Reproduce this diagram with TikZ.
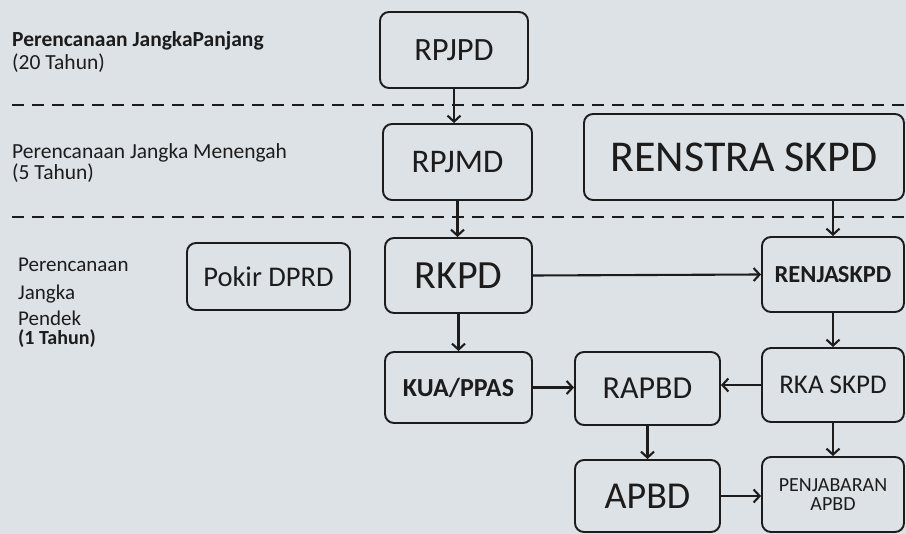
\documentclass[tikz,border=0pt]{standalone}
\usepackage{fontspec}
\setmainfont{Carlito}
\usetikzlibrary{arrows.meta}
\definecolor{bg}{HTML}{DDE2E6}
\definecolor{ink}{HTML}{1C1C1C}
\newcommand{\fs}[1]{\fontsize{#1}{#1}\selectfont}
\begin{document}
\begin{tikzpicture}[x=1pt,y=-1pt,
  box/.style={draw=ink, line width=1.9pt, rounded corners=9pt, text=ink, inner sep=0pt, align=center},
  arr/.style={draw=ink, line width=2.1pt, -{Straight Barb[length=6pt,width=13pt,line width=2.1pt]}},
  sepline/.style={draw=ink, line width=2.6pt, dash pattern=on 12pt off 8pt},
  lbl/.style={text=ink, anchor=base west, inner sep=0pt}]
\fill[bg] (0,0) rectangle (906,534);
\useasboundingbox (0,0) rectangle (906,534);

% separators
\coordinate (s1a) at (12,105); \coordinate (s1b) at (906,105);
\coordinate (s2a) at (12,217); \coordinate (s2b) at (906,217);
\draw[sepline] (s1a) -- (s1b);
\draw[sepline, line width=2.2pt] (s2a) -- (s2b);

% left labels
\node[lbl] (l1a) at (12,47) {\fs{21.5}\bfseries Perencanaan JangkaPanjang};
\node[lbl] (l1b) at (12,70) {\fs{21.5}(20 Tahun)};
\node[lbl] (l2a) at (12,159) {\fs{21.5}Perencanaan Jangka Menengah};
\node[lbl] (l2b) at (12,180) {\fs{21.5}(5 Tahun)};
\node[lbl] (l3a) at (18,272) {\fs{21}Perencanaan};
\node[lbl] (l3b) at (18,300) {\fs{21}Jangka};
\node[lbl] (l3c) at (18,326) {\fs{21}Pendek};
\node[lbl] (l3d) at (18,345) {\fs{20}\bfseries (1 Tahun)};

% boxes
\node[box, minimum width=148pt, minimum height=76pt] (rpjpd) at (454,50) {\fs{32.5}RPJPD};
\node[box, minimum width=149pt, minimum height=76pt] (rpjmd) at (457.5,162) {\fs{33}RPJMD};
\node[box, minimum width=320pt, minimum height=86pt] (renstra) at (744,157) {\fs{44}RENSTRA SKPD};
\node[box, minimum width=163pt, minimum height=67pt] (pokir) at (268.5,276.5) {\fs{28.5}Pokir DPRD};
\node[box, minimum width=147pt, minimum height=75pt] (rkpd) at (458.5,275.5) {\fs{40}RKPD};
\node[box, minimum width=142pt, minimum height=75pt] (renja) at (833,274.5) {\fs{24.5}\bfseries RENJA\kern-1pt SKPD};
\node[box, minimum width=147pt, minimum height=71pt] (kua) at (458.5,387.5) {\fs{26}\bfseries KUA/PPAS};
\node[box, minimum width=145pt, minimum height=73pt] (rapbd) at (647.5,388.5) {\fs{32}RAPBD};
\node[box, minimum width=142pt, minimum height=74pt] (rka) at (833,385) {\fs{27}RKA SKPD};
\node[box, minimum width=145pt, minimum height=72pt] (apbd) at (647.5,496) {\fs{38}APBD};
\node[box, minimum width=142pt, minimum height=75pt] (penj) at (833,494.5) {\fs{20}PENJABARAN\\[5pt]\fs{20}APBD};

% connectors
\draw[arr] (rpjpd.south) -- (rpjpd.south |- rpjmd.north);
\draw[arr] (rpjmd.south) -- (rpjmd.south |- rkpd.north);
\draw[arr] (renstra.south -| renja.north) -- (renja.north);
\draw[arr] (rkpd.east) -- (renja.west);
\draw[arr] (rkpd.south) -- (kua.north);
\draw[arr] (renja.south) -- (rka.north);
\draw[arr] (kua.east) -- (rapbd.west |- kua.east);
\draw[arr] (rka.west) -- (rapbd.east |- rka.west);
\draw[arr] (rapbd.south) -- (apbd.north);
\draw[arr] (rka.south) -- (penj.north);
\draw[arr] (apbd.east) -- (penj.west |- apbd.east);
\end{tikzpicture}
\end{document}
